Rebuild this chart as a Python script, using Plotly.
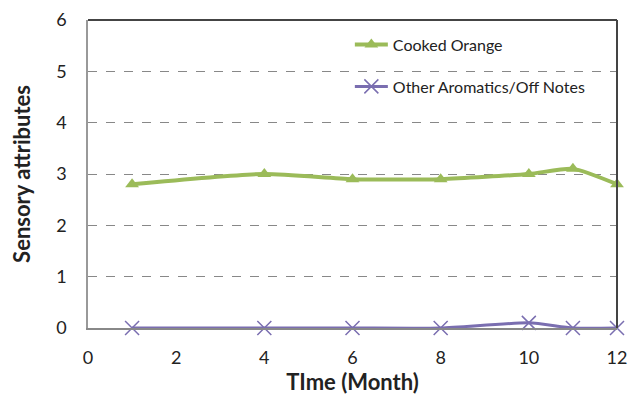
import plotly.graph_objects as go

months = [1, 4, 6, 8, 10, 11, 12]
cooked_orange = [2.8, 3.0, 2.9, 2.9, 3.0, 3.1, 2.8]
other_aromatics = [0, 0, 0, 0, 0.1, 0, 0]
x_ticks = [0, 2, 4, 6, 8, 10, 12]
y_ticks = [0, 1, 2, 3, 4, 5, 6]

FONT = "Lato"
fig = go.Figure()
fig.add_trace(go.Scatter(
    x=months, y=cooked_orange, name="Cooked Orange", mode="lines+markers",
    line=dict(color="#9BBB59", width=4, shape="spline", smoothing=0.6),
    marker=dict(symbol="triangle-up", size=12, color="#9BBB59"),
    legendgroup="a", cliponaxis=False,
))
fig.add_trace(go.Scatter(
    x=months, y=other_aromatics, name="Other Aromatics/Off Notes", mode="lines+markers",
    line=dict(color="#7A6EB0", width=3, shape="spline", smoothing=0.6),
    marker=dict(symbol="x-thin-open", size=14, line=dict(color="#A09AC0", width=1.5)),
    legendgroup="b", cliponaxis=False,
))

# top and right frame lines (darker than left/bottom axis lines)
frame = dict(color="#444", width=2)
fig.add_shape(type="line", xref="paper", yref="paper", x0=0, x1=1, y0=1, y1=1,
              line=frame, layer="above")
fig.add_shape(type="line", xref="paper", yref="paper", x0=1, x1=1, y0=0, y1=1,
              line=frame, layer="above")

fig.update_layout(
    width=629, height=400,
    margin=dict(l=88, r=12, t=20, b=72),
    paper_bgcolor="white", plot_bgcolor="white",
    font=dict(family=FONT, size=18, color="#222"),
    showlegend=True,
    legend=dict(x=0.495, y=0.975, xanchor="left", yanchor="top",
                bgcolor="rgba(0,0,0,0)", font=dict(size=16, family=FONT, color="#222"),
                traceorder="grouped", tracegroupgap=18, itemwidth=33),
    xaxis=dict(range=[0, 12], tickvals=x_ticks, showgrid=False, zeroline=False,
               showline=True, linecolor="#888", linewidth=1.5,
               ticks="", ticklabelstandoff=13, automargin=False,
               ticklabeloverflow="allow",
               title=dict(text="<b>TIme (Month)</b>", font=dict(size=22, family=FONT), standoff=7)),
    yaxis=dict(range=[0, 6], tickvals=y_ticks, showgrid=True, gridcolor="#888",
               griddash="dash", gridwidth=1, zeroline=False,
               showline=True, linecolor="#999", linewidth=1.5,
               ticks="", ticklabelstandoff=16, automargin=False,
               ticklabeloverflow="allow",
               title=dict(text="<b>Sensory attributes</b>", font=dict(size=22, family=FONT), standoff=19)),
)

fig.write_html("out.html", config={"displayModeBar": False},
               post_script="document.body.style.margin='0';")
